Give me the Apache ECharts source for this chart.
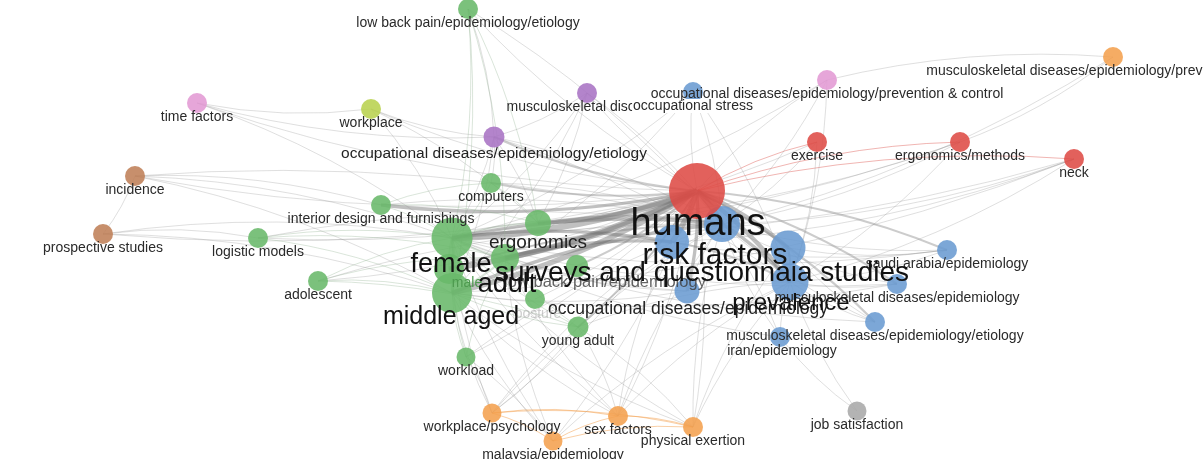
<!DOCTYPE html>
<html>
<head>
<meta charset="utf-8">
<script src="https://cdn.jsdelivr.net/npm/echarts@6/dist/echarts.min.js"></script>
<style>
  html, body { margin: 0; padding: 0; background: #ffffff; }
  #chart { width: 1203px; height: 459px; }
</style>
</head>
<body>
<div id="chart"></div>
<script>
// ---------------- DATA ----------------
// keyword nodes (VOSviewer map coordinates, measured in map units that match the picture)
const nodeNames = [
  "humans", "risk factors", "surveys and questionnaia studies", "prevalence", "node-b1",
  "occupational diseases/epidemiology", "musculoskeletal diseases/epidemiology",
  "musculoskeletal diseases/epidemiology/etiology", "iran/epidemiology", "saudi arabia/epidemiology",
  "musculoskeletal disorders", "occupational stress",
  "female", "middle aged", "male", "adult", "ergonomics", "low back pain/epidemiology",
  "posture", "young adult", "workload", "computers", "interior design and furnishings",
  "logistic models", "adolescent", "low back pain/epidemiology/etiology",
  "occupational diseases/epidemiology/etiology", "workplace", "time factors",
  "occupational diseases/epidemiology/prevention & control",
  "musculoskeletal diseases/epidemiology/prevention & control",
  "incidence", "prospective studies",
  "exercise", "ergonomics/methods", "neck",
  "workplace/psychology", "malaysia/epidemiology", "sex factors", "physical exertion",
  "job satisfaction"
];
const nodeX = [
  697, 722, 672, 790, 788,
  687, 897,
  875, 780, 947,
  587, 693,
  452, 452, 449, 505, 538, 577,
  535, 578, 466, 491, 381,
  258, 318, 468,
  494, 371, 197,
  827,
  1113,
  135, 103,
  817, 960, 1074,
  492, 553, 618, 693,
  857
];
const nodeY = [
  191, 224, 242, 282, 248,
  291, 284,
  322, 337, 250,
  93, 92,
  238, 293, 269, 258, 223, 266,
  299, 327, 357, 183, 205,
  238, 281, 9,
  137, 109, 103,
  80,
  57,
  176, 234,
  142, 142, 159,
  413, 441, 416, 427,
  411
];
// occurrence weight (drives circle size)
const nodeWeight = [
  56, 36, 34, 37, 35,
  25, 20,
  20, 20, 20,
  20, 20,
  41, 40, 30, 28, 26, 22,
  20, 21, 19, 20, 20,
  20, 20, 20,
  21, 20, 20,
  20,
  20,
  20, 20,
  20, 20, 20,
  19, 19, 20, 20,
  19
];
const nodeCluster = [
  "red", "blue", "blue", "blue", "blue",
  "blue", "blue",
  "blue", "blue", "blue",
  "purple", "blue",
  "green", "green", "green", "green", "green", "green",
  "green", "green", "green", "green", "green",
  "green", "green", "green",
  "purple", "lime", "pink",
  "pink",
  "orange",
  "brown", "brown",
  "red", "red", "red",
  "orange", "orange", "orange", "orange",
  "gray"
];
// co-occurrence links: [source, target, strength]
const links = [
  ["humans","female",6],["humans","middle aged",5],["humans","male",5],["humans","adult",5],
  ["humans","ergonomics",4],["humans","risk factors",5],["humans","surveys and questionnaia studies",5],
  ["humans","prevalence",4],["humans","node-b1",4],["humans","interior design and furnishings",3],
  ["humans","computers",2],["humans","occupational diseases/epidemiology",3],
  ["humans","low back pain/epidemiology",2],["humans","young adult",2],
  ["humans","occupational diseases/epidemiology/etiology",2],
  ["female","middle aged",3],["female","surveys and questionnaia studies",3],["female","risk factors",3],
  ["middle aged","risk factors",3],["adult","surveys and questionnaia studies",3],["male","risk factors",2],
  ["risk factors","prevalence",3],["node-b1","prevalence",2],["surveys and questionnaia studies","prevalence",2],
  ["ergonomics","risk factors",2],["female","ergonomics",2],
  ["male","middle aged",2],["male","female",2],["adult","middle aged",2],["adult","female",2],
  ["humans","exercise",1],["humans","ergonomics/methods",1],["humans","neck",1],
  ["humans","musculoskeletal disorders",1],["humans","low back pain/epidemiology/etiology",1],
  ["humans","occupational stress",1],["humans","occupational diseases/epidemiology/prevention & control",1],
  ["humans","saudi arabia/epidemiology",2],["humans","musculoskeletal diseases/epidemiology",2],
  ["humans","musculoskeletal diseases/epidemiology/etiology",2],["humans","iran/epidemiology",1],
  ["humans","workload",1],["humans","logistic models",1],["humans","adolescent",1],["humans","posture",1],
  ["humans","workplace/psychology",1],["humans","sex factors",1],["humans","physical exertion",1],
  ["humans","malaysia/epidemiology",1],["humans","incidence",1],["humans","prospective studies",1],
  ["humans","workplace",1],["humans","time factors",1],
  ["job satisfaction","prevalence",1],["job satisfaction","iran/epidemiology",1],
  ["occupational diseases/epidemiology/prevention & control","musculoskeletal diseases/epidemiology/prevention & control",1],
  ["musculoskeletal diseases/epidemiology/prevention & control","ergonomics/methods",1],
  ["musculoskeletal diseases/epidemiology/prevention & control","risk factors",1],
  ["occupational diseases/epidemiology/prevention & control","risk factors",1],
  ["occupational diseases/epidemiology/prevention & control","prevalence",1],
  ["occupational diseases/epidemiology/prevention & control","female",1],
  ["exercise","risk factors",1],["exercise","prevalence",1],["exercise","female",1],
  ["ergonomics/methods","ergonomics",1],["ergonomics/methods","risk factors",1],
  ["ergonomics/methods","prevalence",1],["ergonomics/methods","female",1],
  ["neck","risk factors",1],["neck","prevalence",1],["neck","female",1],["neck","middle aged",1],
  ["neck","surveys and questionnaia studies",1],
  ["occupational stress","female",1],["occupational stress","risk factors",1],
  ["occupational stress","prevalence",1],["occupational stress","adult",1],
  ["musculoskeletal disorders","female",1],["musculoskeletal disorders","middle aged",1],
  ["musculoskeletal disorders","risk factors",1],["musculoskeletal disorders","ergonomics",1],
  ["musculoskeletal disorders","occupational diseases/epidemiology/etiology",1],
  ["low back pain/epidemiology/etiology","female",1],["low back pain/epidemiology/etiology","ergonomics",1],
  ["low back pain/epidemiology/etiology","occupational diseases/epidemiology/etiology",1],
  ["low back pain/epidemiology/etiology","risk factors",1],["low back pain/epidemiology/etiology","adult",1],
  ["low back pain/epidemiology/etiology","middle aged",1],
  ["occupational diseases/epidemiology/etiology","time factors",1],
  ["occupational diseases/epidemiology/etiology","workplace",1],
  ["occupational diseases/epidemiology/etiology","female",1],
  ["occupational diseases/epidemiology/etiology","middle aged",1],
  ["occupational diseases/epidemiology/etiology","risk factors",1],
  ["occupational diseases/epidemiology/etiology","prevalence",1],
  ["occupational diseases/epidemiology/etiology","ergonomics",1],
  ["occupational diseases/epidemiology/etiology","computers",1],
  ["workplace","female",1],["workplace","ergonomics",1],["workplace","time factors",1],
  ["time factors","female",1],
  ["incidence","interior design and furnishings",1],["incidence","female",1],["incidence","middle aged",1],
  ["incidence","prospective studies",1],["incidence","risk factors",1],
  ["prospective studies","logistic models",1],["prospective studies","female",1],["prospective studies","middle aged",1],
  ["logistic models","female",1],["logistic models","middle aged",1],["logistic models","adult",1],
  ["logistic models","risk factors",1],
  ["adolescent","female",1],["adolescent","middle aged",1],["adolescent","adult",1],
  ["adolescent","risk factors",1],["adolescent","young adult",1],
  ["interior design and furnishings","female",1],["interior design and furnishings","ergonomics",1],
  ["interior design and furnishings","computers",1],["interior design and furnishings","risk factors",1],
  ["computers","female",1],["computers","ergonomics",1],["computers","risk factors",1],
  ["young adult","female",1],["young adult","middle aged",1],["young adult","adult",1],
  ["young adult","risk factors",1],["young adult","prevalence",1],["young adult","workplace/psychology",1],
  ["young adult","sex factors",1],["young adult","physical exertion",1],
  ["workload","female",1],["workload","middle aged",1],["workload","adult",1],
  ["workload","workplace/psychology",1],["workload","malaysia/epidemiology",1],["workload","risk factors",1],
  ["workplace/psychology","sex factors",1],["workplace/psychology","malaysia/epidemiology",1],
  ["workplace/psychology","physical exertion",1],["workplace/psychology","female",1],
  ["workplace/psychology","middle aged",1],["workplace/psychology","risk factors",1],
  ["workplace/psychology","surveys and questionnaia studies",1],
  ["malaysia/epidemiology","sex factors",1],["malaysia/epidemiology","physical exertion",1],
  ["malaysia/epidemiology","female",1],["malaysia/epidemiology","middle aged",1],
  ["malaysia/epidemiology","adult",1],["malaysia/epidemiology","prevalence",1],
  ["sex factors","physical exertion",1],["sex factors","female",1],["sex factors","middle aged",1],
  ["sex factors","adult",1],["sex factors","risk factors",1],["sex factors","prevalence",1],
  ["sex factors","surveys and questionnaia studies",1],
  ["physical exertion","female",1],["physical exertion","middle aged",1],["physical exertion","risk factors",1],
  ["physical exertion","prevalence",1],["physical exertion","node-b1",1],
  ["saudi arabia/epidemiology","female",1],["saudi arabia/epidemiology","risk factors",1],
  ["saudi arabia/epidemiology","prevalence",1],["saudi arabia/epidemiology","node-b1",1],
  ["saudi arabia/epidemiology","surveys and questionnaia studies",1],
  ["musculoskeletal diseases/epidemiology","female",1],["musculoskeletal diseases/epidemiology","middle aged",1],
  ["musculoskeletal diseases/epidemiology","risk factors",1],["musculoskeletal diseases/epidemiology","prevalence",1],
  ["musculoskeletal diseases/epidemiology/etiology","female",1],
  ["musculoskeletal diseases/epidemiology/etiology","risk factors",1],
  ["musculoskeletal diseases/epidemiology/etiology","prevalence",1],
  ["musculoskeletal diseases/epidemiology/etiology","node-b1",1],
  ["iran/epidemiology","prevalence",1],["iran/epidemiology","female",1],["iran/epidemiology","risk factors",1],
  ["occupational diseases/epidemiology","female",1],["occupational diseases/epidemiology","middle aged",1],
  ["occupational diseases/epidemiology","adult",1],["occupational diseases/epidemiology","risk factors",1],
  ["occupational diseases/epidemiology","prevalence",1]
];

// ---------------- STYLE ----------------
const clusterColors = {
  red: "#de4b45", blue: "#6a9bd2", green: "#69b86a", orange: "#f4a04e",
  purple: "#a873c4", pink: "#e39ad4", brown: "#bf7f58", lime: "#b8d24f", gray: "#a9a9a9"
};
const linkColors = {
  red: "rgba(222,90,85,0.45)", orange: "rgba(244,160,78,0.5)", green: "rgba(150,180,150,0.35)"
};
// label style per node: [fontSize, dx, dy, color] (null = no label)
const labelStyle = {
  "humans": [38, 1, 34, "#111111"],
  "risk factors": [30, -7, 32, "#111111"],
  "surveys and questionnaia studies": [28, 30, 31, "#111111"],
  "prevalence": [24, 1, 21, "#111111"],
  "node-b1": null,
  "occupational diseases/epidemiology": [17.5, 1, 18, "#222222"],
  "female": [27, -1, 27, "#111111"],
  "middle aged": [25, -1, 24, "#111111"],
  "male": [14, 18, 14, "#4f9a50"],
  "adult": [27, 2, 27, "#111111"],
  "ergonomics": [19, 0, 20, "#222222"],
  "low back pain/epidemiology": [16.5, 28, 16, "rgba(60,60,60,0.8)"],
  "posture": [14, 3, 15, "rgba(170,170,170,0.6)"],
  "occupational diseases/epidemiology/etiology": [15.5, 0, 17, "#222222"],
  "iran/epidemiology": [14, 2, 14, "#2a2a2a"]
};

// ---------------- BUILD ----------------
const idx = {};
nodeNames.forEach((n, i) => { idx[n] = i; });

const nodes = nodeNames.map((n, i) => {
  const ls = (n in labelStyle) ? labelStyle[n] : [14, 0, 14, "#2a2a2a"];
  const item = {
    name: n,
    value: [nodeX[i], nodeY[i]],
    symbolSize: nodeWeight[i],
    itemStyle: { color: clusterColors[nodeCluster[i]], opacity: 0.88 },
    label: ls ? {
      show: true, position: "inside", align: "center", verticalAlign: "middle",
      offset: [ls[1], ls[2]], fontSize: ls[0], color: ls[3], opacity: 1,
      fontFamily: "Liberation Sans, Arial, sans-serif"
    } : { show: false }
  };
  if (n === "occupational stress") {
    item.label.backgroundColor = "#ffffff";
    item.label.padding = [0, 1, 0, 1];
  }
  return item;
});
// draw big labels last so they sit on top
const bigOrder = ["male", "posture", "low back pain/epidemiology", "middle aged", "female", "adult",
  "prevalence", "surveys and questionnaia studies", "risk factors", "humans"];
nodes.sort((a, b) => bigOrder.indexOf(a.name) - bigOrder.indexOf(b.name));

const edges = links.map(([s, t, w]) => {
  const cs = nodeCluster[idx[s]], ct = nodeCluster[idx[t]];
  let color;
  if (cs === ct && linkColors[cs]) color = linkColors[cs];
  else if (w >= 3) color = "rgba(105,105,105,0.42)";
  else if (w === 2) color = "rgba(120,120,120,0.38)";
  else color = "rgba(150,150,150,0.3)";
  return {
    source: s, target: t,
    lineStyle: { width: w === 1 ? 1 : w * 1.1, color: color, curveness: 0.08 }
  };
});

const chart = echarts.init(document.getElementById("chart"), null, { renderer: "canvas" });
chart.setOption({
  backgroundColor: "#ffffff",
  animation: false,
  grid: { left: 0, right: 0, top: 0, bottom: 0 },
  xAxis: { type: "value", min: 0, max: 1203, show: false },
  yAxis: { type: "value", min: 0, max: 459, inverse: true, show: false },
  series: [{
    type: "graph",
    coordinateSystem: "cartesian2d",
    layout: "none",
    data: nodes,
    links: edges,
    symbol: "circle",
    emphasis: { disabled: true },
    lineStyle: { opacity: 1 }
  }]
});
</script>
</body>
</html>
